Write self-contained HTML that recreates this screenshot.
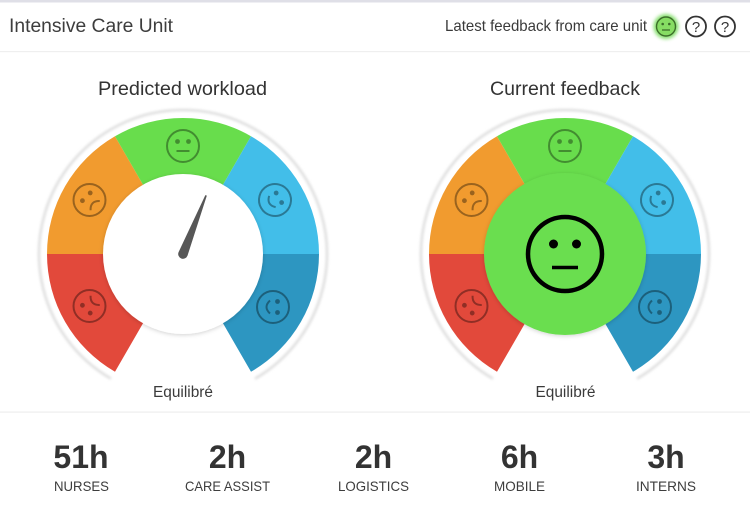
<!DOCTYPE html>
<html>
<head>
<meta charset="utf-8">
<style>
  html,body{margin:0;padding:0;background:#fff;}
  body{width:750px;height:511px;overflow:hidden;}
  svg{display:block;}
  text{font-family:"Liberation Sans",sans-serif;}
</style>
</head>
<body>
<svg width="750" height="511" viewBox="0 0 750 511" xmlns="http://www.w3.org/2000/svg">
  <defs>
    <filter id="sh" x="-20%" y="-20%" width="140%" height="140%">
      <feDropShadow dx="0" dy="1" stdDeviation="2" flood-color="#000" flood-opacity="0.18"/>
    </filter>
    <filter id="blur1" x="-10%" y="-10%" width="120%" height="120%">
      <feGaussianBlur stdDeviation="1.3"/>
    </filter>
    <filter id="glow" x="-50%" y="-50%" width="200%" height="200%">
      <feGaussianBlur stdDeviation="1.8"/>
    </filter>
    <g id="neutral">
      <circle r="16" fill="none" stroke-width="2"/>
      <circle cx="-5.5" cy="-4.5" r="2.4" stroke="none"/>
      <circle cx="5.5" cy="-4.5" r="2.4" stroke="none"/>
      <line x1="-6.5" y1="5" x2="6.5" y2="5" stroke-width="2"/>
    </g>
    <g id="sad">
      <circle r="16" fill="none" stroke-width="2"/>
      <circle cx="-5.5" cy="-4.5" r="2.4" stroke="none"/>
      <circle cx="5.5" cy="-4.5" r="2.4" stroke="none"/>
      <path d="M -6.5 8 Q 0 1 6.5 8" fill="none" stroke-width="2"/>
    </g>
    <g id="happy">
      <circle r="16" fill="none" stroke-width="2"/>
      <circle cx="-5.5" cy="-4.5" r="2.4" stroke="none"/>
      <circle cx="5.5" cy="-4.5" r="2.4" stroke="none"/>
      <path d="M -6.5 3 Q 0 10 6.5 3" fill="none" stroke-width="2"/>
    </g>
    <g id="ring">
      <path d="M -72 124.7 A 144 144 0 1 1 72 124.7" fill="none" stroke="#dedede" stroke-width="2.5" filter="url(#blur1)"/>
      <path d="M -136 0 A 136 136 0 0 0 -68 117.8 L -35 60.6 A 70 70 0 0 1 -70 0 Z" fill="#e2493b"/>
      <path d="M -68 -117.8 A 136 136 0 0 0 -136 0 L -70 0 A 70 70 0 0 1 -35 -60.6 Z" fill="#f19b2f"/>
      <path d="M 68 -117.8 A 136 136 0 0 0 -68 -117.8 L -35 -60.6 A 70 70 0 0 1 35 -60.6 Z" fill="#68dd4c"/>
      <path d="M 136 0 A 136 136 0 0 0 68 -117.8 L 35 -60.6 A 70 70 0 0 1 70 0 Z" fill="#42bee9"/>
      <path d="M 68 117.8 A 136 136 0 0 0 136 0 L 70 0 A 70 70 0 0 1 35 60.6 Z" fill="#2d96c1"/>
      <g fill="rgba(0,0,0,0.36)" stroke="rgba(0,0,0,0.36)">
        <use href="#neutral" transform="translate(0,-108)"/>
        <use href="#sad" transform="translate(-93.5,-54) rotate(-45)"/>
        <use href="#sad" transform="translate(-93.5,52) rotate(-135)"/>
        <use href="#happy" transform="translate(92,-54) rotate(60)"/>
        <use href="#happy" transform="translate(90,53) rotate(90)"/>
      </g>
    </g>
  </defs>

  <rect x="0" y="0" width="750" height="2.5" fill="#dfdfe7"/>

  <text x="9" y="32" font-size="19" fill="#3d3d3d" textLength="164" lengthAdjust="spacingAndGlyphs">Intensive Care Unit</text>
  <text x="445" y="31" font-size="16" fill="#3a3a3a" textLength="202" lengthAdjust="spacingAndGlyphs">Latest feedback from care unit</text>
  <circle cx="666" cy="26.5" r="12.5" fill="#5fd43f" opacity="0.75" filter="url(#glow)"/>
  <circle cx="666" cy="26.5" r="9.5" fill="#86dd63" stroke="#3c6e2a" stroke-width="1.4"/>
  <circle cx="662.7" cy="24" r="1.3" fill="#3c6e2a"/>
  <circle cx="669.3" cy="24" r="1.3" fill="#3c6e2a"/>
  <line x1="662" y1="30" x2="670" y2="30" stroke="#3c6e2a" stroke-width="1.3"/>
  <circle cx="696" cy="26.5" r="10" fill="none" stroke="#333" stroke-width="1.8"/>
  <text x="696" y="32" font-size="15" fill="#333" text-anchor="middle">?</text>
  <circle cx="725" cy="26.5" r="10" fill="none" stroke="#333" stroke-width="1.8"/>
  <text x="725" y="32" font-size="15" fill="#333" text-anchor="middle">?</text>

  <rect x="0" y="51" width="750" height="1.2" fill="#efefef"/>

  <text x="182.5" y="95" font-size="19.5" fill="#333" text-anchor="middle" textLength="169" lengthAdjust="spacingAndGlyphs">Predicted workload</text>
  <text x="565" y="95" font-size="19.5" fill="#333" text-anchor="middle" textLength="150" lengthAdjust="spacingAndGlyphs">Current feedback</text>

  <g transform="translate(183,254)">
    <use href="#ring"/>
    <circle r="80" fill="#fff" filter="url(#sh)"/>
    <g transform="rotate(21.5)">
      <path d="M -4.8 0 L -0.8 -63 L 0.8 -63 L 4.8 0 A 4.8 4.8 0 0 1 -4.8 0 Z" fill="#575757"/>
    </g>
  </g>
  <text x="183" y="397" font-size="15.5" fill="#3a3a3a" text-anchor="middle" textLength="60" lengthAdjust="spacingAndGlyphs">Equilibré</text>

  <g transform="translate(565,254)">
    <use href="#ring"/>
    <circle r="81" fill="#6ade4f" filter="url(#sh)"/>
    <circle r="37" fill="none" stroke="#000" stroke-width="4.5"/>
    <circle cx="-11.5" cy="-10" r="4.5" fill="#000"/>
    <circle cx="11.5" cy="-10" r="4.5" fill="#000"/>
    <line x1="-13" y1="13.5" x2="13" y2="13.5" stroke="#000" stroke-width="3.5"/>
  </g>
  <text x="565.5" y="397" font-size="15.5" fill="#3a3a3a" text-anchor="middle" textLength="60" lengthAdjust="spacingAndGlyphs">Equilibré</text>

  <rect x="0" y="411.5" width="750" height="1.2" fill="#eeeeee"/>

  <g font-size="32" font-weight="bold" fill="#333" text-anchor="middle">
    <text x="81" y="468">51h</text>
    <text x="227.5" y="468">2h</text>
    <text x="373.5" y="468">2h</text>
    <text x="519.5" y="468">6h</text>
    <text x="666" y="468">3h</text>
  </g>
  <g font-size="14" fill="#3d3d3d" text-anchor="middle">
    <text x="81.5" y="491" textLength="55" lengthAdjust="spacingAndGlyphs">NURSES</text>
    <text x="227.5" y="491" textLength="85" lengthAdjust="spacingAndGlyphs">CARE ASSIST</text>
    <text x="373.5" y="491" textLength="71" lengthAdjust="spacingAndGlyphs">LOGISTICS</text>
    <text x="519.5" y="491" textLength="51" lengthAdjust="spacingAndGlyphs">MOBILE</text>
    <text x="666" y="491" textLength="60" lengthAdjust="spacingAndGlyphs">INTERNS</text>
  </g>
</svg>
</body>
</html>
